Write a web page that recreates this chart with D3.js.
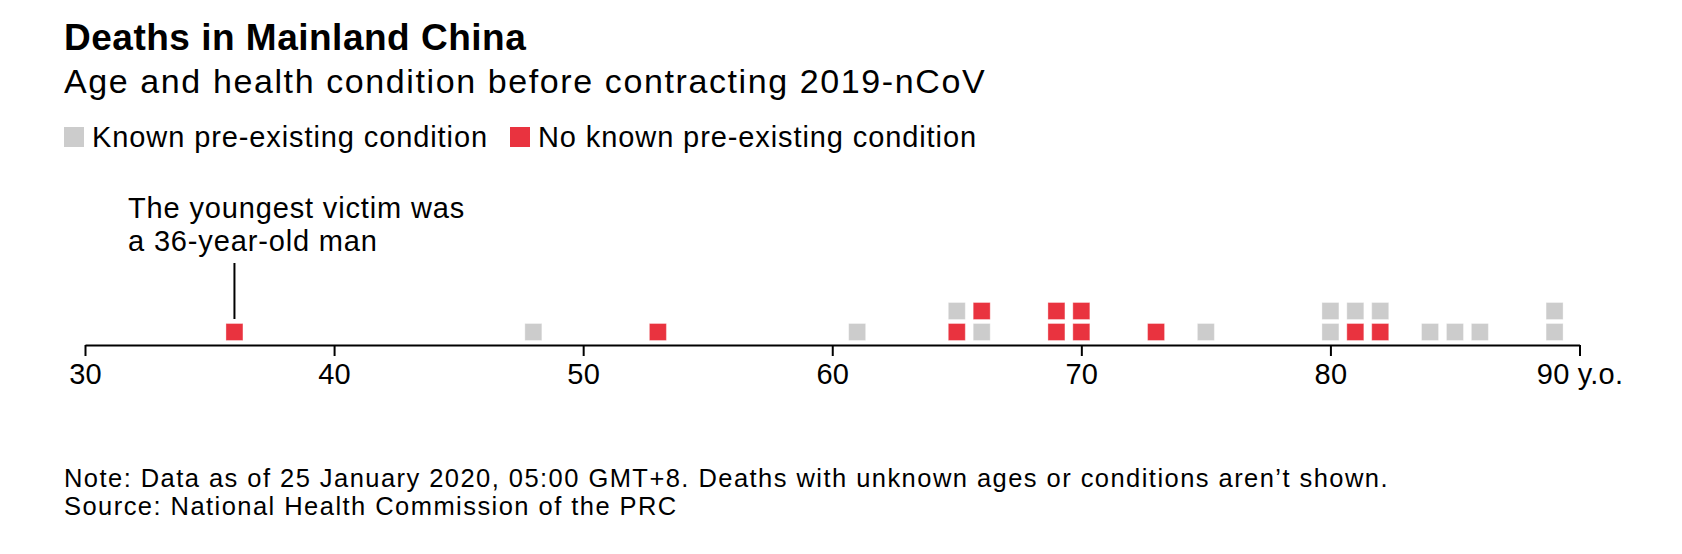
<!DOCTYPE html>
<html>
<head>
<meta charset="utf-8">
<script src="https://cdn.jsdelivr.net/npm/d3@7"></script>
<style>
  html, body { margin: 0; padding: 0; background: #fff; }
  svg { display: block; font-family: "Liberation Sans", Arial, Helvetica, sans-serif; }
</style>
</head>
<body>
<svg id="chart" width="1682" height="554"></svg>
<script>
// ---- data ----
const ages = [36, 48, 53, 61, 65, 65, 66, 66, 69, 69, 70, 70, 73, 75, 80, 80, 81, 81, 82, 82, 84, 85, 86, 89, 89];
const conditions = ["none", "known", "none", "known", "none", "known", "known", "none", "none", "none",
                    "none", "none", "none", "known", "known", "known", "none", "known", "none", "known",
                    "known", "known", "known", "known", "known"];
const tickValues = [30, 40, 50, 60, 70, 80, 90];
const tickLabels = ["30", "40", "50", "60", "70", "80", "90 y.o."];
const legendKeys = ["known", "none"];
const legendLabels = ["Known pre-existing condition", "No known pre-existing condition"];
const title = "Deaths in Mainland China";
const subtitle = "Age and health condition before contracting 2019-nCoV";
const annotationLines = ["The youngest victim was", "a 36-year-old man"];
const annotationAge = 36;
const noteLines = ["Note: Data as of 25 January 2020, 05:00 GMT+8. Deaths with unknown ages or conditions aren\u2019t shown.",
                   "Source: National Health Commission of the PRC"];

// ---- layout ----
const colors = { known: "#cccccc", none: "#e9333f" };
const svg = d3.select("#chart");
const axisY = 345;
const x = d3.scaleLinear().domain([30, 90]).range([85, 1579.5]);
const sq = 17, rowPitch = 21, baseGap = 4.5;

// Titles
svg.append("text").attr("x", 64).attr("y", 50)
  .attr("font-size", 37).attr("font-weight", "bold").attr("letter-spacing", 0.5)
  .attr("fill", "#000").text(title);
svg.append("text").attr("x", 64).attr("y", 93)
  .attr("font-size", 34).attr("letter-spacing", 1.6)
  .attr("fill", "#000").text(subtitle);

// Legend
const legendX = [64, 510];
const lg = svg.append("g");
legendKeys.forEach((k, i) => {
  lg.append("rect").attr("x", legendX[i]).attr("y", 127).attr("width", 20).attr("height", 20)
    .attr("fill", colors[k]);
  lg.append("text").attr("x", legendX[i] + 28).attr("y", 147)
    .attr("font-size", 29).attr("letter-spacing", 0.9).attr("fill", "#000").text(legendLabels[i]);
});

// Stack index per age
const counts = {};
const deaths = ages.map((a, i) => {
  const s = counts[a] || 0;
  counts[a] = s + 1;
  return { age: a, cond: conditions[i], stack: s };
});

// Annotation
svg.append("g").selectAll("text").data(annotationLines).join("text")
  .attr("x", 128).attr("y", (d, i) => 217.5 + i * 33.5)
  .attr("font-size", 29).attr("letter-spacing", 0.85).attr("fill", "#000").text(d => d);
svg.append("line")
  .attr("x1", x(annotationAge)).attr("x2", x(annotationAge))
  .attr("y1", 263).attr("y2", 319)
  .attr("stroke", "#000").attr("stroke-width", 2);

// Squares
svg.append("g").selectAll("rect").data(deaths).join("rect")
  .attr("x", d => x(d.age) - sq / 2)
  .attr("y", d => axisY - baseGap - sq - d.stack * rowPitch)
  .attr("width", sq).attr("height", sq)
  .attr("fill", d => colors[d.cond])
  .attr("stroke", "#ffffff").attr("stroke-opacity", 0.35).attr("stroke-width", 1);

// Axis
const axis = d3.axisBottom(x)
  .tickValues(tickValues)
  .tickFormat((d, i) => tickLabels[i])
  .tickSize(11).tickSizeOuter(0).tickPadding(7.5);
const ag = svg.append("g").attr("transform", `translate(0,${axisY})`).call(axis);
ag.select(".domain").attr("stroke", "#000").attr("stroke-width", 2);
ag.selectAll(".tick line").attr("stroke", "#000").attr("stroke-width", 2);
ag.selectAll(".tick text")
  .attr("font-family", "Liberation Sans, Arial, Helvetica, sans-serif")
  .attr("font-size", 29).attr("letter-spacing", 0.2).attr("fill", "#000");

// Notes
svg.append("g").selectAll("text").data(noteLines).join("text")
  .attr("x", 64).attr("y", (d, i) => 487 + i * 28)
  .attr("font-size", 25.5).attr("letter-spacing", 1.45).attr("fill", "#000").text(d => d);
</script>
</body>
</html>
